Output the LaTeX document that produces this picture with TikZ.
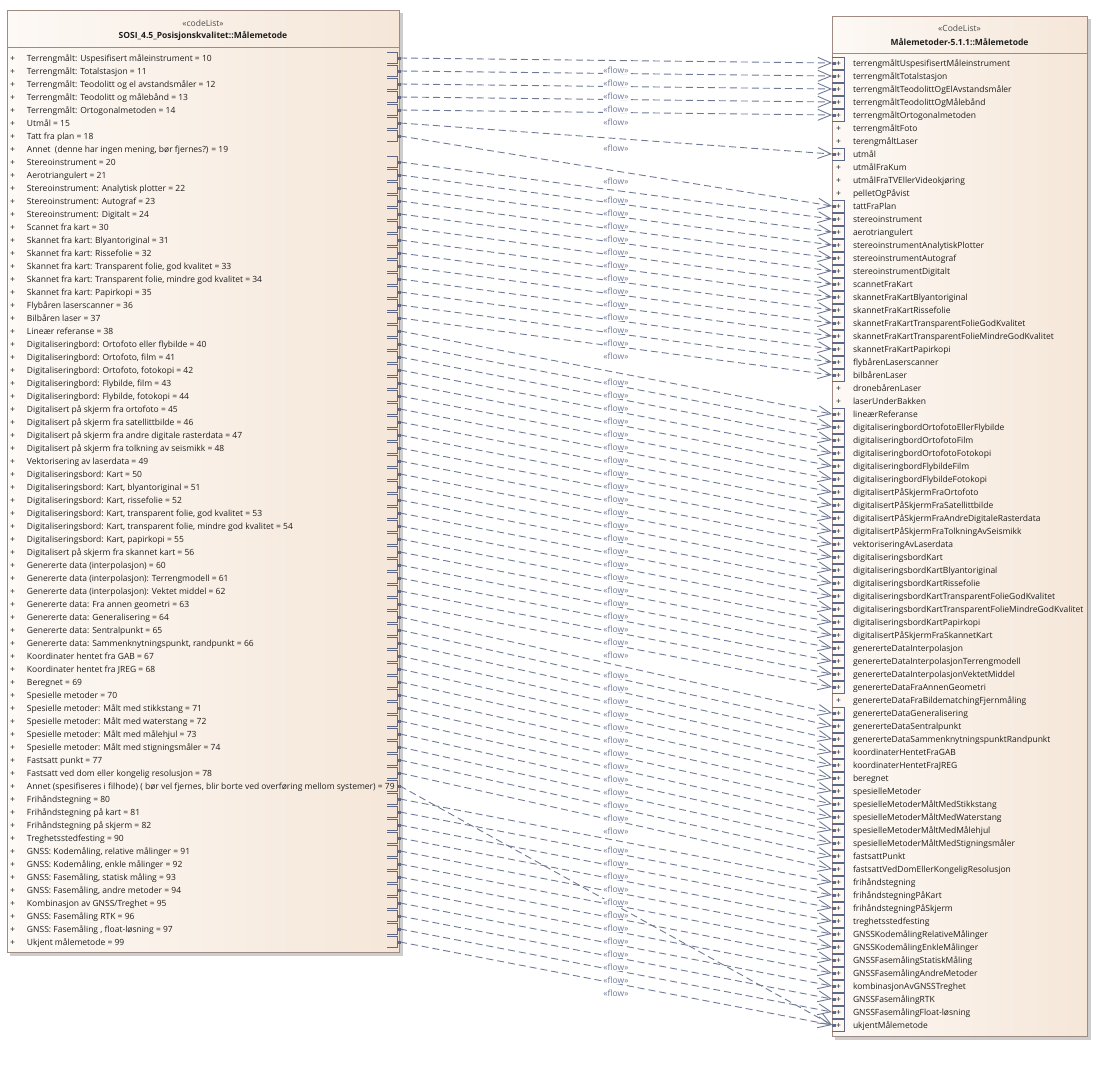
\documentclass[tikz,border=0pt]{standalone}
\usepackage{fontspec}
\setmainfont{Open Sans}
\usetikzlibrary{arrows.meta,calc}
\definecolor{boxborder}{RGB}{160,138,132}
\definecolor{boxfillA}{RGB}{253,249,245}
\definecolor{boxfillB}{RGB}{245,230,216}
\definecolor{shadowcol}{RGB}{205,205,205}
\definecolor{flowcol}{RGB}{112,122,150}
\definecolor{markcol}{RGB}{95,105,135}
\definecolor{txtcol}{RGB}{30,30,30}
\newcommand\itemfont{\fontsize{8.5}{10}\selectfont}
\def\flowpairs{1/1,2/2,3/3,4/4,5/5,6/8,7/12,9/13,10/14,11/15,12/16,13/17,14/18,15/19,16/20,17/21,18/22,19/23,20/24,21/25,22/28,23/29,24/30,25/31,26/32,27/33,28/34,29/35,30/36,31/37,32/38,33/39,34/40,35/41,36/42,37/43,38/44,39/45,40/46,41/47,42/48,43/49,44/51,45/52,46/53,47/54,48/55,49/56,50/57,51/58,52/59,53/60,54/61,55/62,56/63,57/75,58/64,59/65,60/66,61/67,62/68,63/69,64/70,65/71,66/72,67/73,68/74,69/75}
\begin{document}
\begin{tikzpicture}[x=1pt,y=-1pt,
  every node/.style={inner sep=0pt, outer sep=0pt, text=txtcol},
  classbox/.style={draw=boxborder, line width=0.8pt, left color=boxfillA, right color=boxfillB},
  itemtext/.style={anchor=base west, font=\itemfont},
  plussign/.style={anchor=base, font=\itemfont},
  stereo/.style={anchor=base, font=\itemfont, text=black!70},
  titletext/.style={anchor=base, font=\bfseries\itemfont},
  flowline/.style={draw=flowcol, line width=0.9pt, dash pattern=on 7pt off 4pt, -{Straight Barb[length=13pt,width=11pt,line width=0.9pt]}},
  flowlbl/.style={font=\itemfont, text=flowcol, fill=white, inner sep=0.6pt},
  lmark/.style={draw=markcol, line width=0.8pt},
]
\useasboundingbox (0,0) rectangle (1098,1066);
% shadows
\fill[shadowcol] (10,13) rectangle (403,956);
\fill[shadowcol] (835,19) rectangle (1091,1040);
% class boxes
\node[classbox, minimum width=392pt, minimum height=942pt] (leftbox) at (203,481) {};
\node[classbox, minimum width=255pt, minimum height=1020pt] (rightbox) at (959.5,526) {};
\draw[boxborder, line width=0.8pt] (7,47) -- (399,47);
\draw[boxborder, line width=0.8pt] (832,53) -- (1087,53);
\node[stereo] (lstereo) at (203,26.3) {«codeList»};
\node[titletext] (ltitle) at (203,38.8) {SOSI\_4.5\_Posisjonskvalitet::Målemetode};
\node[stereo] (rstereo) at (959.5,31.3) {«CodeList»};
\node[titletext] (rtitle) at (959.5,45.3) {Målemetoder-5.1.1::Målemetode};
% left items
\foreach \t [count=\i] in {
{Terrengmålt: Uspesifisert måleinstrument = 10},
{Terrengmålt: Totalstasjon = 11},
{Terrengmålt: Teodolitt og el avstandsmåler = 12},
{Terrengmålt: Teodolitt og målebånd = 13},
{Terrengmålt: Ortogonalmetoden = 14},
{Utmål = 15},
{Tatt fra plan = 18},
{Annet~ (denne har ingen mening, bør fjernes?) = 19},
{Stereoinstrument = 20},
{Aerotriangulert = 21},
{Stereoinstrument: Analytisk plotter = 22},
{Stereoinstrument: Autograf = 23},
{Stereoinstrument: Digitalt = 24},
{Scannet fra kart = 30},
{Skannet fra kart: Blyantoriginal = 31},
{Skannet fra kart: Rissefolie = 32},
{Skannet fra kart: Transparent folie, god kvalitet = 33},
{Skannet fra kart: Transparent folie, mindre god kvalitet = 34},
{Skannet fra kart: Papirkopi = 35},
{Flybåren laserscanner = 36},
{Bilbåren laser = 37},
{Lineær referanse = 38},
{Digitaliseringbord: Ortofoto eller flybilde = 40},
{Digitaliseringbord: Ortofoto, film = 41},
{Digitaliseringbord: Ortofoto, fotokopi = 42},
{Digitaliseringbord: Flybilde, film = 43},
{Digitaliseringbord: Flybilde, fotokopi = 44},
{Digitalisert på skjerm fra ortofoto = 45},
{Digitalisert på skjerm fra satellittbilde = 46},
{Digitalisert på skjerm fra andre digitale rasterdata = 47},
{Digitalisert på skjerm fra tolkning av seismikk = 48},
{Vektorisering av laserdata = 49},
{Digitaliseringsbord: Kart = 50},
{Digitaliseringsbord: Kart, blyantoriginal = 51},
{Digitaliseringsbord: Kart, rissefolie = 52},
{Digitaliseringsbord: Kart, transparent folie, god kvalitet = 53},
{Digitaliseringsbord: Kart, transparent folie, mindre god kvalitet = 54},
{Digitaliseringsbord: Kart, papirkopi = 55},
{Digitalisert på skjerm fra skannet kart = 56},
{Genererte data (interpolasjon) = 60},
{Genererte data (interpolasjon): Terrengmodell = 61},
{Genererte data (interpolasjon): Vektet middel = 62},
{Genererte data: Fra annen geometri = 63},
{Genererte data: Generalisering = 64},
{Genererte data: Sentralpunkt = 65},
{Genererte data: Sammenknytningspunkt, randpunkt = 66},
{Koordinater hentet fra GAB = 67},
{Koordinater hentet fra JREG = 68},
{Beregnet = 69},
{Spesielle metoder = 70},
{Spesielle metoder: Målt med stikkstang = 71},
{Spesielle metoder: Målt med waterstang = 72},
{Spesielle metoder: Målt med målehjul = 73},
{Spesielle metoder: Målt med stigningsmåler = 74},
{Fastsatt punkt = 77},
{Fastsatt ved dom eller kongelig resolusjon = 78},
{Annet (spesifiseres i filhode) ( bør vel fjernes, blir borte ved overføring mellom systemer) = 79},
{Frihåndstegning = 80},
{Frihåndstegning på kart = 81},
{Frihåndstegning på skjerm = 82},
{Treghetsstedfesting = 90},
{GNSS: Kodemåling, relative målinger = 91},
{GNSS: Kodemåling, enkle målinger = 92},
{GNSS: Fasemåling, statisk måling = 93},
{GNSS: Fasemåling, andre metoder = 94},
{Kombinasjon av GNSS/Treghet = 95},
{GNSS: Fasemåling RTK = 96},
{GNSS: Fasemåling , float-løsning = 97},
{Ukjent målemetode = 99}} {
  \pgfmathsetmacro\yc{58+13*(\i-1)}
  \node[plussign] (lp\i) at (12.5,\yc+3) {+};
  \node[itemtext] (lt\i) at (27,\yc+3) {\t};
  \coordinate (la\i) at (400,\yc);
}
% right items
\foreach \t [count=\i] in {
terrengmåltUspesifisertMåleinstrument,
terrengmåltTotalstasjon,
terrengmåltTeodolittOgElAvstandsmåler,
terrengmåltTeodolittOgMålebånd,
terrengmåltOrtogonalmetoden,
terrengmåltFoto,
terengmåltLaser,
utmål,
utmålFraKum,
utmålFraTVEllerVideokjøring,
pelletOgPåvist,
tattFraPlan,
stereoinstrument,
aerotriangulert,
stereoinstrumentAnalytiskPlotter,
stereoinstrumentAutograf,
stereoinstrumentDigitalt,
scannetFraKart,
skannetFraKartBlyantoriginal,
skannetFraKartRissefolie,
skannetFraKartTransparentFolieGodKvalitet,
skannetFraKartTransparentFolieMindreGodKvalitet,
skannetFraKartPapirkopi,
flybårenLaserscanner,
bilbårenLaser,
dronebårenLaser,
laserUnderBakken,
lineærReferanse,
digitaliseringbordOrtofotoEllerFlybilde,
digitaliseringbordOrtofotoFilm,
digitaliseringbordOrtofotoFotokopi,
digitaliseringbordFlybildeFilm,
digitaliseringbordFlybildeFotokopi,
digitalisertPåSkjermFraOrtofoto,
digitalisertPåSkjermFraSatellittbilde,
digitalisertPåSkjermFraAndreDigitaleRasterdata,
digitalisertPåSkjermFraTolkningAvSeismikk,
vektoriseringAvLaserdata,
digitaliseringsbordKart,
digitaliseringsbordKartBlyantoriginal,
digitaliseringsbordKartRissefolie,
digitaliseringsbordKartTransparentFolieGodKvalitet,
digitaliseringsbordKartTransparentFolieMindreGodKvalitet,
digitaliseringsbordKartPapirkopi,
digitalisertPåSkjermFraSkannetKart,
genererteDataInterpolasjon,
genererteDataInterpolasjonTerrengmodell,
genererteDataInterpolasjonVektetMiddel,
genererteDataFraAnnenGeometri,
genererteDataFraBildematchingFjernmåling,
genererteDataGeneralisering,
genererteDataSentralpunkt,
genererteDataSammenknytningspunktRandpunkt,
koordinaterHentetFraGAB,
koordinaterHentetFraJREG,
beregnet,
spesielleMetoder,
spesielleMetoderMåltMedStikkstang,
spesielleMetoderMåltMedWaterstang,
spesielleMetoderMåltMedMålehjul,
spesielleMetoderMåltMedStigningsmåler,
fastsattPunkt,
fastsattVedDomEllerKongeligResolusjon,
frihåndstegning,
frihåndstegningPåKart,
frihåndstegningPåSkjerm,
treghetsstedfesting,
GNSSKodemålingRelativeMålinger,
GNSSKodemålingEnkleMålinger,
GNSSFasemålingStatiskMåling,
GNSSFasemålingAndreMetoder,
kombinasjonAvGNSSTreghet,
GNSSFasemålingRTK,
GNSSFasemålingFloat-løsning,
ukjentMålemetode} {
  \pgfmathsetmacro\yc{63+13*(\i-1)}
  \node[plussign] (rp\i) at (838.5,\yc+3) {+};
  \node[itemtext] (rt\i) at (853,\yc+3) {\t};
  \coordinate (ra\i) at (832,\yc);
}
% connectors
\foreach \l/\r in \flowpairs {
  \draw[flowline] (la\l) -- (ra\r);
}
% end markers
\foreach \l/\r in \flowpairs {
  \draw[lmark] (la\l) ++(-13,-6) -- ++(10.5,0) -- ++(0,11) -- ++(-10.5,0);
  \fill[markcol] (la\l) ++(-3,-1.5) rectangle ++(3.5,3);
  \draw[lmark] (ra\r) ++(0,-6) -- ++(12,0) -- ++(0,12) -- ++(-12,0);
  \fill[markcol] (ra\r) ++(0,-1.5) rectangle ++(3.5,3);
}
% labels
\foreach \l/\r in \flowpairs {
  \path (la\l) -- (ra\r) node[flowlbl, midway, yshift=-10pt] (fl\l) {«flow»};
}
\end{tikzpicture}
\end{document}
